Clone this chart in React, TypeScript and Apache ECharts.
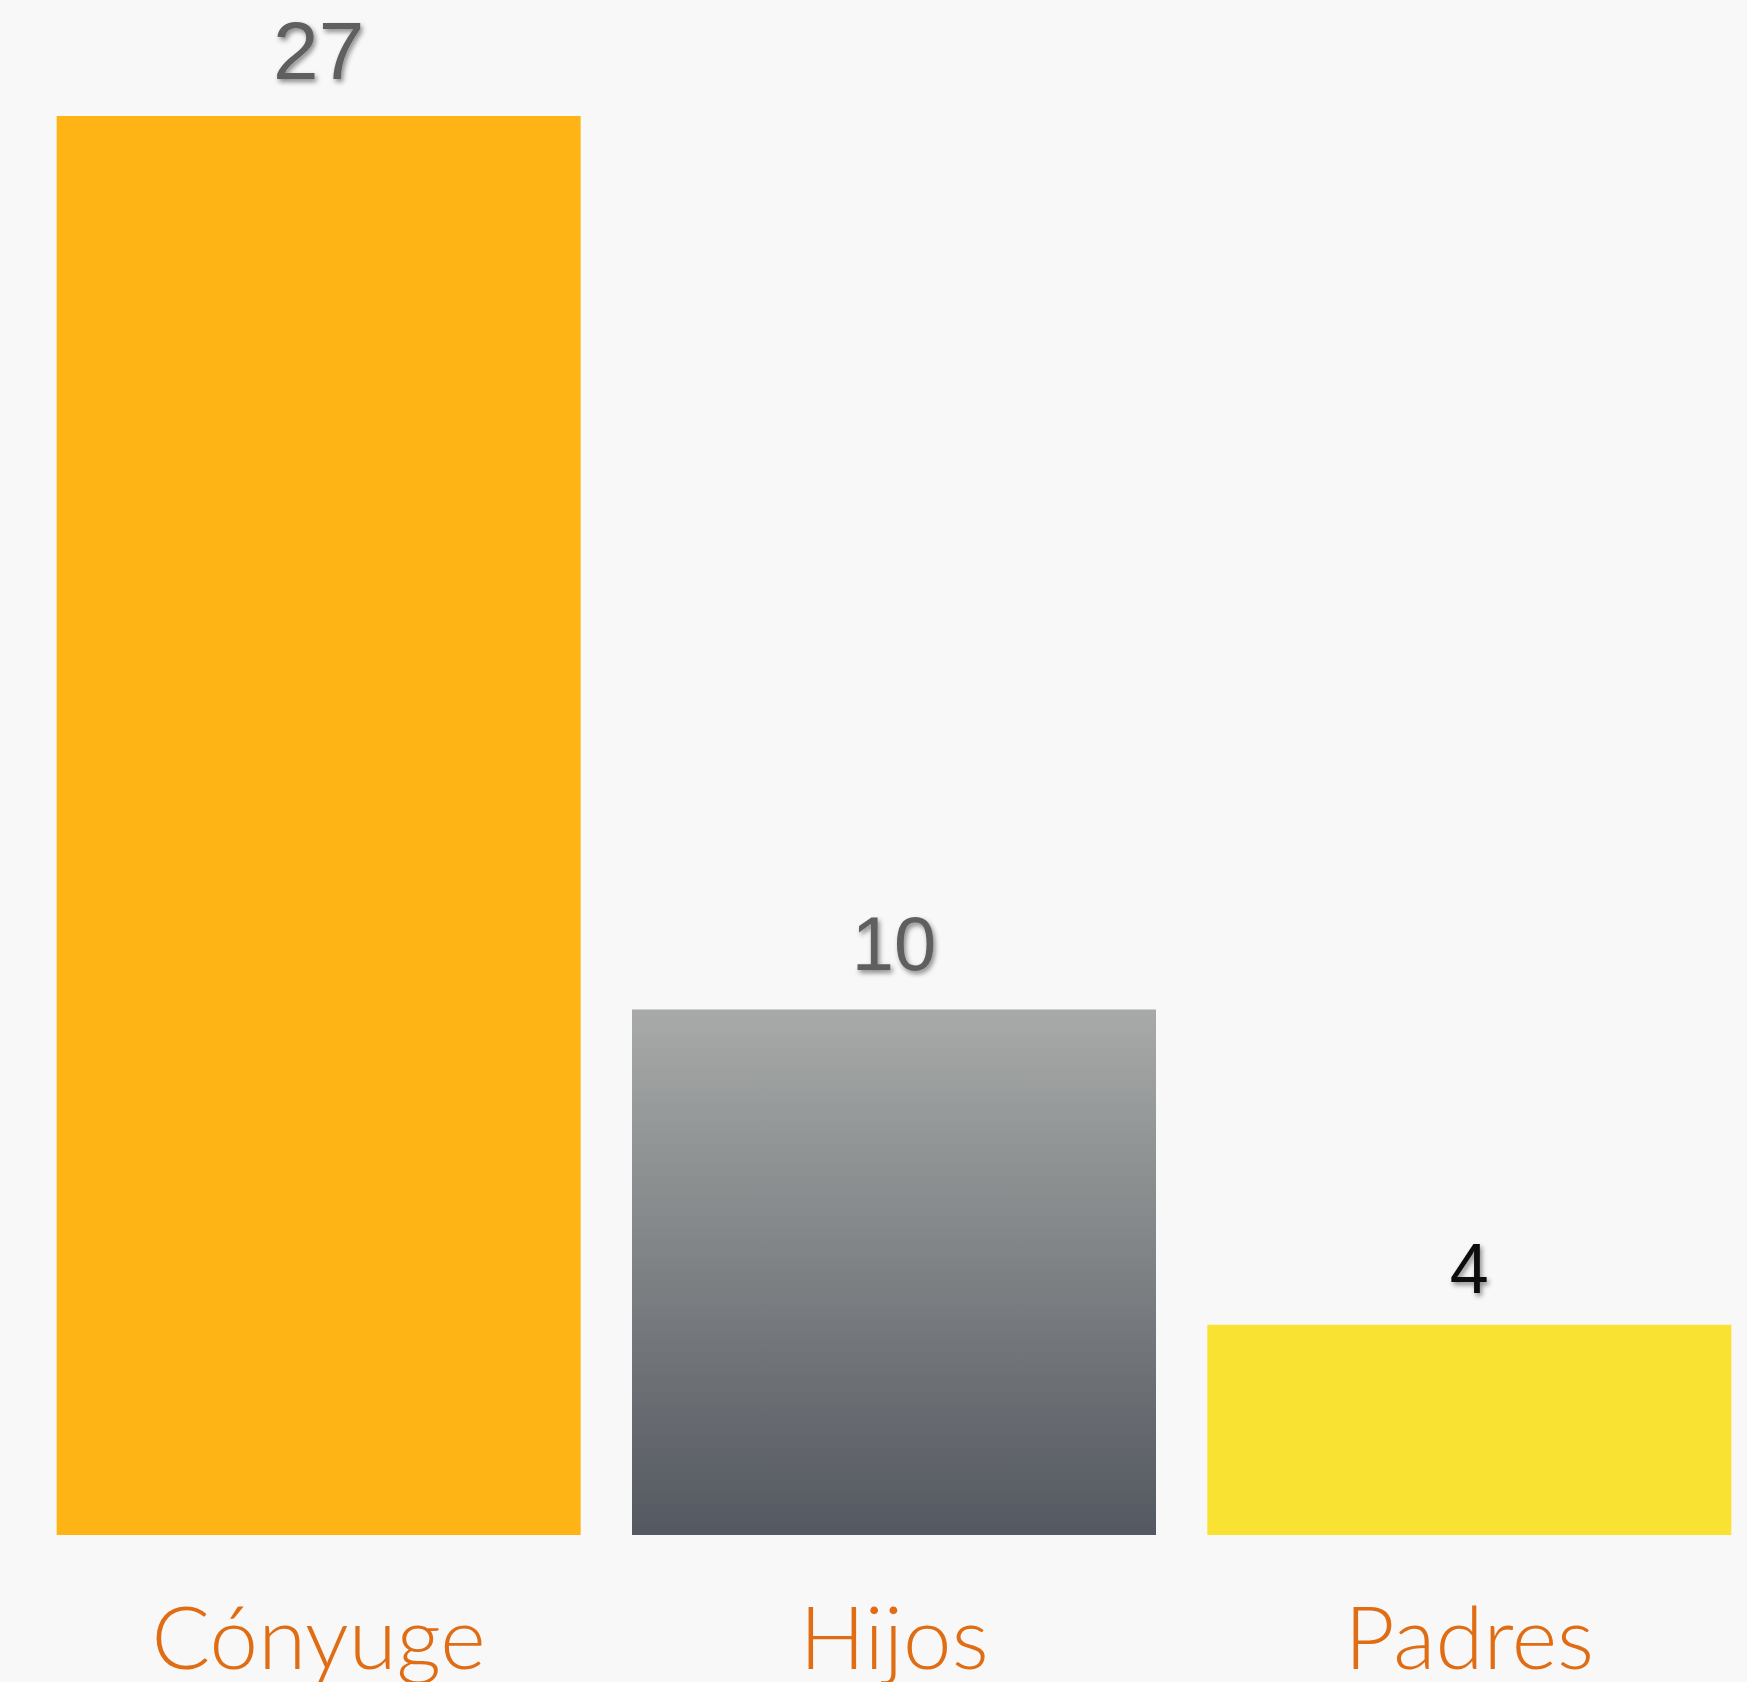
import React, { useEffect, useRef } from "react";
import * as echarts from "echarts";

const categories = ["Cónyuge", "Hijos", "Padres"];
const values = [27, 10, 4];
const labelColors = ["#5f5f5f", "#5f5f5f", "#111111"];
const labelSizes = [82, 76, 70];
const labelGaps = [25, 28, 21];

export default function App() {
  const ref = useRef<HTMLDivElement>(null);
  useEffect(() => {
    document.body.style.margin = "0";
    const chart = echarts.init(ref.current!, null, { renderer: "svg" });
    const barColors: any[] = [
      "#FDB414",
      new echarts.graphic.LinearGradient(0, 0, 0, 1, [
        { offset: 0, color: "#A7AAA8" },
        { offset: 1, color: "#545860" },
      ]),
      "#F9E231",
    ];
    chart.setOption({
      animation: false,
      backgroundColor: "#F8F8F8",
      grid: {
        left: 31,
        right: 0,
        top: 116,
        bottom: 147,
        containLabel: false,
        outerBoundsMode: "none",
      },
      xAxis: {
        type: "category",
        data: categories,
        axisLine: { show: false },
        axisTick: { show: false },
        axisLabel: {
          color: "#E06C14",
          fontFamily: "Lato",
          fontWeight: 300,
          fontSize: 87,
          margin: 57,
        },
      },
      yAxis: {
        type: "value",
        min: 0,
        max: 27,
        show: false,
        splitLine: { show: false },
      },
      series: [
        {
          type: "bar",
          barWidth: 524,
          data: values.map((v, i) => ({
            value: v,
            itemStyle: { color: barColors[i] },
            label: {
              show: true,
              position: "top",
              distance: labelGaps[i],
              color: labelColors[i],
              fontFamily: "Liberation Sans",
              fontSize: labelSizes[i],
              textShadowColor: "rgba(0,0,0,0.45)",
              textShadowBlur: 5,
              textShadowOffsetX: 2,
              textShadowOffsetY: 3,
            },
          })),
        },
      ],
    });
    return () => chart.dispose();
  }, []);
  return (
    <div style={{ width: 1747, height: 1682, overflow: "hidden" }}>
      <div ref={ref} style={{ width: 1757, height: 1682 }} />
    </div>
  );
}
